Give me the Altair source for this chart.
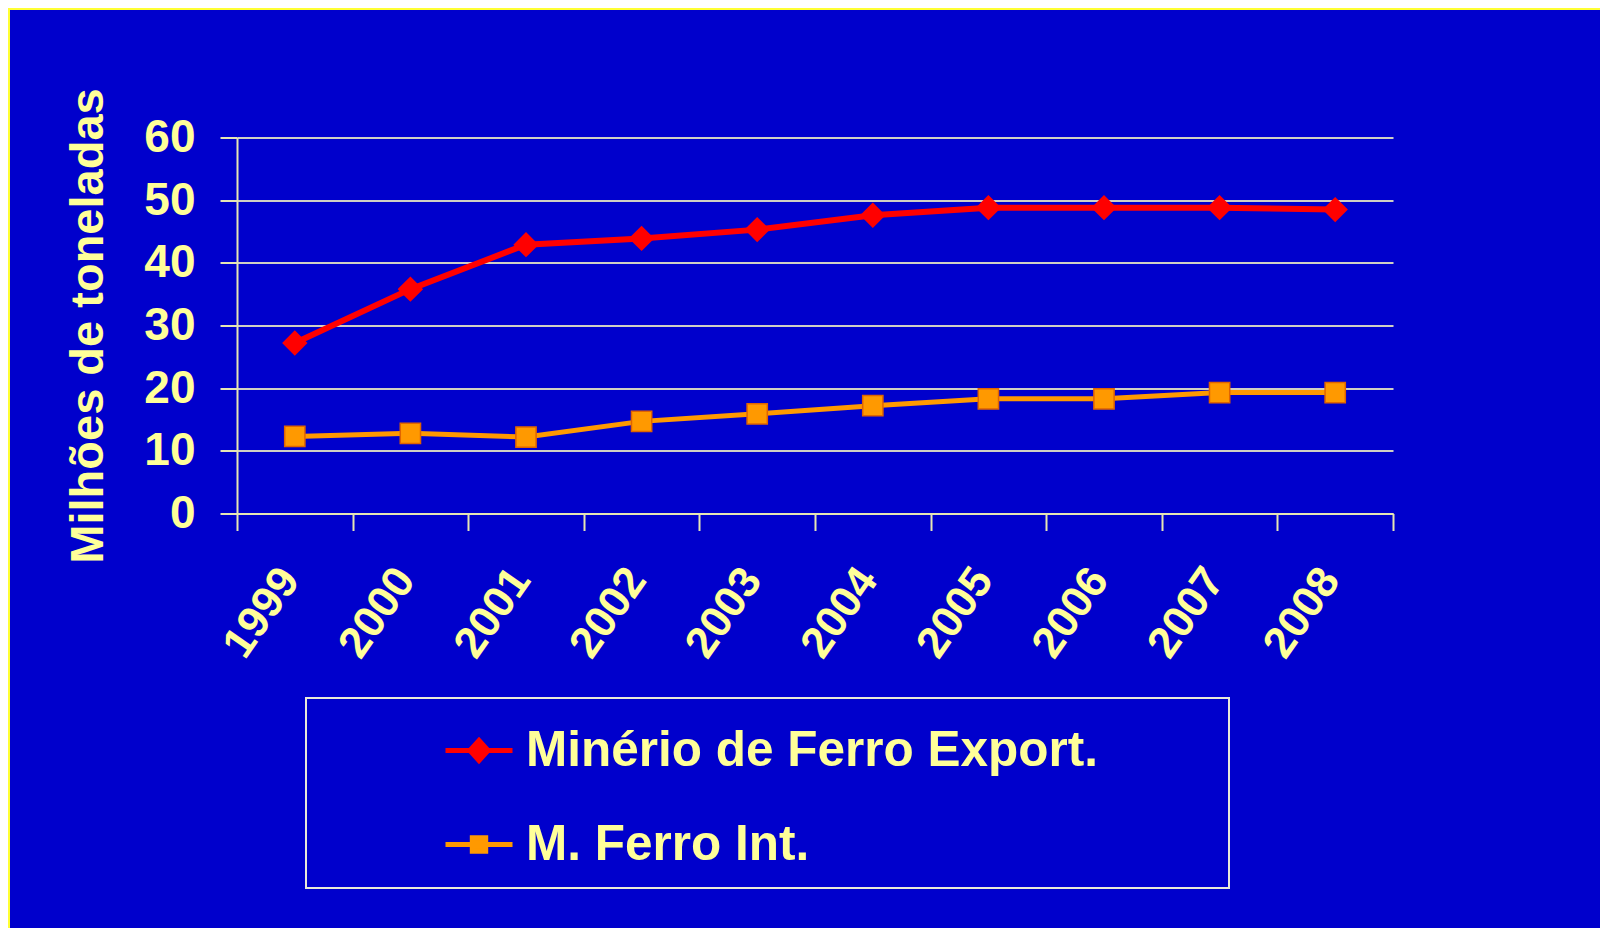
import altair as alt
import pandas as pd

years = ["1999", "2000", "2001", "2002", "2003", "2004", "2005", "2006", "2007", "2008"]
export_vals = [27.2, 35.8, 42.9, 43.9, 45.3, 47.6, 48.8, 48.8, 48.8, 48.5]
internal_vals = [12.3, 12.8, 12.2, 14.7, 15.9, 17.2, 18.3, 18.3, 19.3, 19.3]
series_names = ["Minério de Ferro Export.", "M. Ferro Int."]
y_ticks = [0, 10, 20, 30, 40, 50, 60]

rows = []
for name, vals in zip(series_names, [export_vals, internal_vals]):
    for yr, v in zip(years, vals):
        rows.append({"ano": yr, "valor": v, "serie": name})
df = pd.DataFrame(rows)

BG = "#0000CC"
TXT = "#FFFF99"
AXC = "#E6E6B4"
GRID = "#CFCFC4"
RED = "#FF0000"
ORANGE = "#FF9900"
ORANGE_EDGE = "#E06400"

W, H = 1156, 376
PAD_L, PAD_T = 229, 129.5
TOTAL_W, TOTAL_H = 1592, 920

x_enc = alt.X(
    "ano:O",
    sort=years,
    scale=alt.Scale(paddingInner=0, paddingOuter=0),
    axis=alt.Axis(
        title=None,
        grid=False,
        tickBand="extent",
        tickSize=17,
        tickWidth=2,
        domainWidth=2,
        labelAngle=-55,
        labelAlign="right",
        labelBaseline="middle",
        labelPadding=42,
        labelOffset=-5,
        labelFontSize=44,
    ),
)
y_enc = alt.Y(
    "valor:Q",
    scale=alt.Scale(domain=[0, 60], nice=False, zero=True),
    axis=alt.Axis(
        values=y_ticks,
        title="Milhões de toneladas",
        titleFontSize=47,
        titlePadding=31,
        tickSize=17,
        tickWidth=2,
        domainWidth=2,
        gridWidth=2,
        labelPadding=25,
        labelFontSize=46,
    ),
)

base = alt.Chart(df)

lines = base.mark_line().encode(
    x=x_enc,
    y=y_enc,
    color=alt.Color("serie:N", scale=alt.Scale(domain=series_names, range=[RED, ORANGE]), legend=None),
    strokeWidth=alt.StrokeWidth("serie:N", scale=alt.Scale(domain=series_names, range=[6, 5]), legend=None),
)

points = base.mark_point(filled=True, opacity=1, strokeWidth=1.5).encode(
    x=x_enc,
    y=y_enc,
    shape=alt.Shape("serie:N", scale=alt.Scale(domain=series_names, range=["diamond", "square"]), legend=None),
    fill=alt.Fill("serie:N", scale=alt.Scale(domain=series_names, range=[RED, ORANGE]), legend=None),
    stroke=alt.Stroke("serie:N", scale=alt.Scale(domain=series_names, range=[RED, ORANGE_EDGE]), legend=None),
    size=alt.Size("serie:N", scale=alt.Scale(domain=series_names, range=[540, 410]), legend=None),
)

diamond_path = "M-1,0H1M0,-0.3L0.27,0L0,0.3L-0.27,0Z"
square_path = "M-1,0H1M-0.2,-0.2H0.2V0.2H-0.2Z"

leg = alt.Legend(
    title=None,
    orient="none",
    legendX=206,
    legendY=577,
    padding=0,
    labelFont="Liberation Sans",
    labelFontWeight="bold",
    labelFontSize=49.5,
    labelColor=TXT,
    labelLimit=0,
    labelOffset=11,
    symbolSize=4489,
    symbolStrokeWidth=5,
    symbolOpacity=1,
    rowPadding=33,
)

legend_layer = base.transform_filter("false").mark_point(filled=True, strokeWidth=5).encode(
    shape=alt.Shape("serie:N", scale=alt.Scale(domain=series_names, range=[diamond_path, square_path]), legend=leg),
    fill=alt.Fill("serie:N", scale=alt.Scale(domain=series_names, range=[RED, ORANGE]), legend=leg),
    stroke=alt.Stroke("serie:N", scale=alt.Scale(domain=series_names, range=[RED, ORANGE]), legend=leg),
)

one = alt.Chart(pd.DataFrame({"k": [0]}))
legend_box = one.mark_rect(fill="transparent", stroke="#E8E8D8", strokeWidth=2).encode(
    x=alt.value(69), x2=alt.value(992), y=alt.value(560.5), y2=alt.value(750.5)
)
border_top = one.mark_rule(stroke="#FFFF33", strokeWidth=2).encode(
    x=alt.value(-PAD_L), x2=alt.value(TOTAL_W - PAD_L), y=alt.value(-PAD_T + 1)
)
border_left = one.mark_rule(stroke="#FFFF33", strokeWidth=2).encode(
    x=alt.value(-PAD_L + 1), y=alt.value(-PAD_T), y2=alt.value(TOTAL_H - PAD_T)
)

chart = (
    alt.layer(border_top, border_left, legend_box, lines, points, legend_layer)
    .resolve_scale(color="independent", shape="independent", fill="independent",
                   stroke="independent", size="independent", strokeWidth="independent")
    .properties(
        width=W,
        height=H,
        autosize=alt.AutoSizeParams(type="none"),
        padding={"left": PAD_L, "top": PAD_T, "right": TOTAL_W - PAD_L - W, "bottom": TOTAL_H - PAD_T - H},
        background=BG,
    )
    .configure_view(stroke=None)
    .configure_axis(
        domainColor=AXC,
        tickColor=AXC,
        gridColor=GRID,
        labelColor=TXT,
        titleColor=TXT,
        labelFont="Liberation Sans",
        titleFont="Liberation Sans",
        labelFontWeight="bold",
        titleFontWeight="bold",
    )
)

chart.save("out.html", embed_options={"renderer": "svg", "actions": False})
